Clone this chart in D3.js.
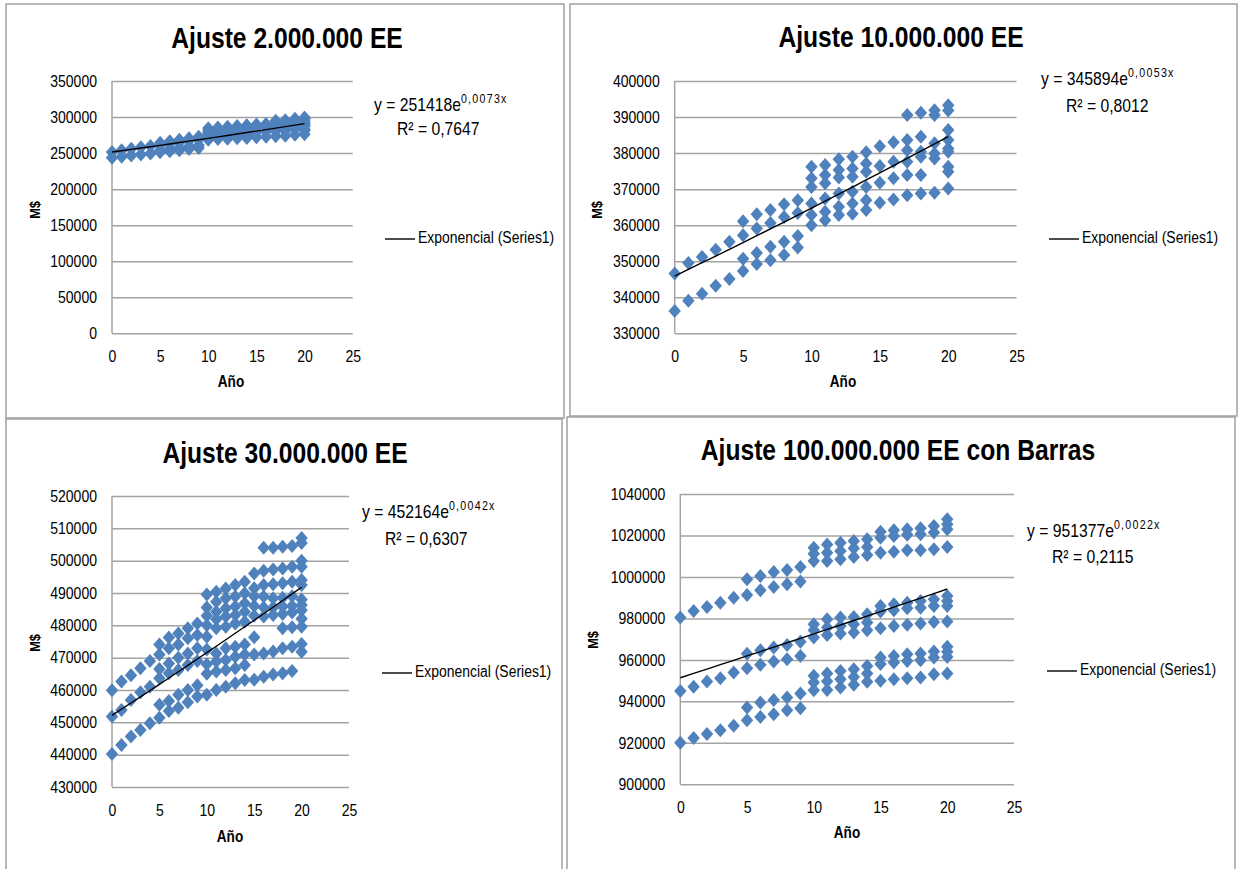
<!DOCTYPE html>
<html>
<head>
<meta charset="utf-8">
<script src="https://cdn.jsdelivr.net/npm/d3@7"></script>
<style>
  body { margin: 0; background: #fff; }
</style>
</head>
<body>
<svg id="chart" width="1239" height="869"></svg>
<script>

// ---------------- data ----------------
var years = [0, 1, 2, 3, 4, 5, 6, 7, 8, 9, 10, 11, 12, 13, 14, 15, 16, 17, 18, 19, 20];

// one list of values per year
var vals2M = [
  [251500, 243500],
  [254000, 245000],
  [256000, 246500],
  [258000, 248000],
  [260000, 249500],
  [264500, 261000, 254000, 251000],
  [266500, 263000, 255500, 252500],
  [268500, 265000, 257500, 254000],
  [270500, 267000, 259000, 255500],
  [272500, 269000, 261000, 257000],
  [284500, 281000, 278000, 274500, 271500, 268500],
  [285500, 282000, 279000, 275500, 272500, 269500],
  [286500, 283000, 280000, 276000, 273000, 270000],
  [287500, 284000, 281000, 277000, 274000, 270500],
  [288500, 285000, 282000, 278000, 275000, 271000],
  [289500, 285500, 279000, 272000],
  [290500, 286500, 280000, 272500],
  [295000, 290500, 287000, 283000, 280500, 273500],
  [295500, 291000, 287500, 283500, 281000, 274000],
  [297500, 296000, 291500, 288000, 284000, 275500],
  [299500, 297500, 294000, 291000, 288500, 287500, 283000, 281500, 276000]
];

var vals10M = [
  [346600, 336200],
  [349500, 339000],
  [351200, 341000],
  [353200, 343200],
  [355400, 345100],
  [361100, 357200, 350700, 347300],
  [363000, 359100, 352300, 349200],
  [364200, 360600, 354000, 350300],
  [365800, 362300, 355400, 351700],
  [366900, 363400, 357000, 353800],
  [376200, 373000, 370600, 366000, 362800, 360000],
  [376700, 373900, 371600, 367400, 363700, 361400],
  [378300, 375300, 373200, 368800, 365100, 362800],
  [379000, 375700, 373400, 369300, 366000, 363200],
  [380200, 377100, 374800, 370600, 366900, 364200],
  [381900, 376400, 371800, 366200],
  [383000, 377600, 373000, 367100],
  [390600, 383600, 380800, 377600, 373900, 368300],
  [391200, 384500, 380400, 379000, 373900, 368800],
  [391900, 390600, 382700, 379900, 378500, 369000],
  [393300, 391800, 386400, 383600, 381300, 380400, 376200, 374800, 370200]
];

var vals30M = [
  [459900, 451800, 440200],
  [462600, 453800, 443000],
  [464600, 456900, 445600],
  [466700, 459300, 447600],
  [469000, 461000, 449700],
  [474100, 471000, 466500, 463600, 455400, 451400],
  [476200, 472900, 468200, 465200, 456600, 453500],
  [477500, 474100, 470000, 466200, 458500, 454500],
  [479100, 476000, 471300, 467700, 460000, 456200],
  [480600, 477000, 472900, 469000, 461500, 458000],
  [489500, 485500, 483000, 480000, 476500, 472500, 468000, 465000, 458500],
  [490400, 487300, 484200, 481900, 479100, 471300, 468800, 465700, 460000],
  [491400, 488400, 485300, 482700, 479600, 472900, 469300, 466200, 461000],
  [492500, 488900, 485800, 483200, 480600, 473400, 470300, 466700, 462100],
  [493500, 489900, 486800, 484200, 481100, 474100, 471000, 467700, 463100],
  [496000, 491500, 489000, 486000, 483000, 476300, 471000, 463200],
  [504000, 496900, 492500, 488900, 485500, 482700, 471300, 464100],
  [504000, 497300, 492700, 488400, 485500, 483200, 471900, 464800],
  [504300, 497600, 493000, 488500, 485800, 483500, 479100, 472900, 465200],
  [504500, 498100, 493500, 489000, 486000, 484000, 479400, 473400, 465900],
  [507000, 505500, 500000, 498100, 494000, 492500, 488000, 486300, 484700, 482000, 479600, 474200, 471800]
];

var vals100M = [
  [980400, 945000, 920000],
  [983600, 947000, 922300],
  [985500, 949600, 924200],
  [987600, 951200, 926100],
  [990000, 953900, 928200],
  [998900, 991300, 963000, 956000, 937000, 930900],
  [1000500, 993600, 964700, 957600, 939400, 932500],
  [1002400, 995200, 966000, 959200, 940600, 933800],
  [1003400, 996500, 967200, 960300, 941800, 935700],
  [1004800, 997800, 968800, 961900, 943800, 936700],
  [1014100, 1011200, 1007700, 977200, 974300, 970800, 952300, 949100, 945400],
  [1015700, 1011700, 1007700, 979600, 975600, 972000, 953400, 949700, 945500],
  [1016500, 1012500, 1008500, 980400, 976400, 972700, 954700, 950700, 946700],
  [1017300, 1013800, 1009600, 980700, 977200, 973200, 955500, 951800, 948000],
  [1018200, 1014500, 1010600, 982000, 978000, 974300, 957100, 953400, 949500],
  [1021800, 1018900, 1011700, 986000, 983300, 975200, 961100, 958000, 949900],
  [1022500, 1019800, 1012200, 986800, 983900, 976400, 961900, 958700, 950700],
  [1023000, 1020300, 1012900, 987600, 984900, 976900, 962700, 959500, 951200],
  [1023500, 1020600, 1012900, 988400, 985200, 977500, 963100, 959800, 951500],
  [1024600, 1021400, 1013300, 989200, 986000, 978300, 964000, 961100, 953100],
  [1027800, 1025400, 1023000, 1014500, 990800, 988400, 986000, 978500, 966300, 963900, 961400, 953400]
];

var titles = ["Ajuste 2.000.000 EE", "Ajuste 10.000.000 EE", "Ajuste 30.000.000 EE", "Ajuste 100.000.000 EE con Barras"];
var trendA = [251418, 345894, 452164, 951377];
var trendB = [0.0073, 0.0053, 0.0042, 0.0022];
var eqCoef = ["251418", "345894", "452164", "951377"];
var eqExp = ["0,0073x", "0,0053x", "0,0042x", "0,0022x"];
var r2Text = ["0,7647", "0,8012", "0,6307", "0,2115"];
var legendText = "Exponencial (Series1)";

var xDomain = [0, 25];
var xTicks = [0, 5, 10, 15, 20, 25];
var yDomains = [[0, 350000], [330000, 400000], [430000, 520000], [900000, 1040000]];
var yTicks = [
  [0, 50000, 100000, 150000, 200000, 250000, 300000, 350000],
  [330000, 340000, 350000, 360000, 370000, 380000, 390000, 400000],
  [430000, 440000, 450000, 460000, 470000, 480000, 490000, 500000, 510000, 520000],
  [900000, 920000, 940000, 960000, 980000, 1000000, 1020000, 1040000]
];
var allVals = [vals2M, vals10M, vals30M, vals100M];

// ---------------- layout ----------------
var layout = [
  {box: [6, 4, 558, 414],   plot: [112, 81, 352.7, 333.3], title: [287, 48],  eq: [374, 106], r2: [397, 130], leg: [385, 239], yLab: [36, 210], xLab: [231, 383]},
  {box: [570, 4, 667, 412], plot: [674.7, 81, 1016.6, 333.3], title: [901, 47], eq: [1041, 80], r2: [1066, 107], leg: [1049, 239], yLab: [598, 210], xLab: [843, 383]},
  {box: [6, 419, 556, 460], plot: [112, 496, 349, 787], title: [285, 463], eq: [362, 513], r2: [385, 540], leg: [382, 673], yLab: [36, 643], xLab: [230, 838]},
  {box: [567, 417, 668, 460], plot: [680.3, 494, 1014, 784.3], title: [898, 460], eq: [1027, 532], r2: [1052, 558], leg: [1047, 671], yLab: [594, 640], xLab: [847, 834]}
];

// no condensed face is installed, so squeeze text horizontally
var FONT = "'Liberation Sans', Arial, sans-serif";
var SX = 0.85;
var BLUE = "#4f81bd";
var GRID = "#a3a3a3";

var svg = d3.select("#chart");

function label(g, x, y, size, txt) {
  return g.append("text")
    .attr("transform", "translate(" + x + "," + y + ") scale(" + SX + ",1)")
    .attr("font-family", FONT)
    .attr("font-size", size)
    .attr("fill", "#000")
    .text(txt);
}

function drawPanel(i) {
  var L = layout[i];
  var left = L.plot[0], top = L.plot[1], right = L.plot[2], bottom = L.plot[3];
  var g = svg.append("g");

  g.append("rect")
    .attr("x", L.box[0]).attr("y", L.box[1])
    .attr("width", L.box[2]).attr("height", L.box[3])
    .attr("fill", "#fff")
    .attr("stroke", "#a0a0a0")
    .attr("stroke-width", 1.5);

  var x = d3.scaleLinear().domain(xDomain).range([left, right]);
  var y = d3.scaleLinear().domain(yDomains[i]).range([bottom, top]);

  // y axis + gridlines
  var ya = g.append("g")
    .attr("transform", "translate(" + left + ",0)")
    .call(d3.axisLeft(y).tickValues(yTicks[i]).tickSize(-(right - left)).tickPadding(15).tickFormat(d3.format("d")));
  ya.select(".domain").remove();
  ya.selectAll("line").attr("stroke", GRID).attr("stroke-width", 1.5);
  ya.attr("font-family", FONT).attr("font-size", 16.5);
  ya.selectAll("text").attr("fill", "#000")
    .attr("x", -15 / SX)
    .attr("transform", "scale(" + SX + ",1)");

  g.append("line")
    .attr("x1", left).attr("x2", left)
    .attr("y1", top).attr("y2", bottom)
    .attr("stroke", GRID).attr("stroke-width", 1.5);

  // x axis
  var xa = g.append("g")
    .attr("transform", "translate(0," + bottom + ")")
    .call(d3.axisBottom(x).tickValues(xTicks).tickSize(0).tickPadding(17));
  xa.select(".domain").remove();
  xa.attr("font-family", FONT).attr("font-size", 16.5);
  xa.selectAll("text").attr("fill", "#000").attr("transform", "scale(" + SX + ",1)");

  // points
  var pts = [];
  allVals[i].forEach(function(list, j) {
    list.forEach(function(v) { pts.push({yr: years[j], v: v}); });
  });
  g.append("g")
    .selectAll("path")
    .data(pts)
    .enter()
    .append("path")
      .attr("d", "M0,-7L6.2,0L0,7L-6.2,0Z")
      .attr("transform", function(d) { return "translate(" + x(d.yr) + "," + y(d.v) + ")"; })
      .attr("fill", BLUE);

  // exponential trend line
  var line = d3.line()
    .x(function(d) { return x(d); })
    .y(function(d) { return y(trendA[i] * Math.exp(trendB[i] * d)); });
  g.append("path")
    .datum(years)
    .attr("d", line)
    .attr("fill", "none")
    .attr("stroke", "#000")
    .attr("stroke-width", 1.4);

  // title
  label(g, L.title[0], L.title[1], 29, titles[i])
    .attr("text-anchor", "middle")
    .attr("font-weight", "bold");

  // equation
  var eq = label(g, L.eq[0], L.eq[1], 18.5, null)
    .attr("dominant-baseline", "middle");
  eq.append("tspan").text("y = " + eqCoef[i] + "e");
  eq.append("tspan")
    .attr("dy", -6)
    .attr("font-size", 12.5)
    .attr("letter-spacing", 1.5)
    .text(eqExp[i]);

  label(g, L.r2[0], L.r2[1], 18.5, "R\u00b2 = " + r2Text[i])
    .attr("dominant-baseline", "middle");

  // legend
  g.append("line")
    .attr("x1", L.leg[0]).attr("x2", L.leg[0] + 30)
    .attr("y1", L.leg[1]).attr("y2", L.leg[1])
    .attr("stroke", "#000").attr("stroke-width", 1.4);
  label(g, L.leg[0] + 33, L.leg[1], 16.4, legendText)
    .attr("dominant-baseline", "middle");

  // axis titles
  g.append("text")
    .attr("transform", "translate(" + L.yLab[0] + "," + L.yLab[1] + ") rotate(-90) scale(" + SX + ",1)")
    .attr("text-anchor", "middle")
    .attr("dominant-baseline", "middle")
    .attr("font-family", FONT)
    .attr("font-weight", "bold")
    .attr("font-size", 15)
    .text("M$");
  label(g, L.xLab[0], L.xLab[1], 16, "A\u00f1o")
    .attr("text-anchor", "middle")
    .attr("dominant-baseline", "middle")
    .attr("font-weight", "bold");
}

for (var i = 0; i < 4; i++) drawPanel(i);

</script>
</body>
</html>
